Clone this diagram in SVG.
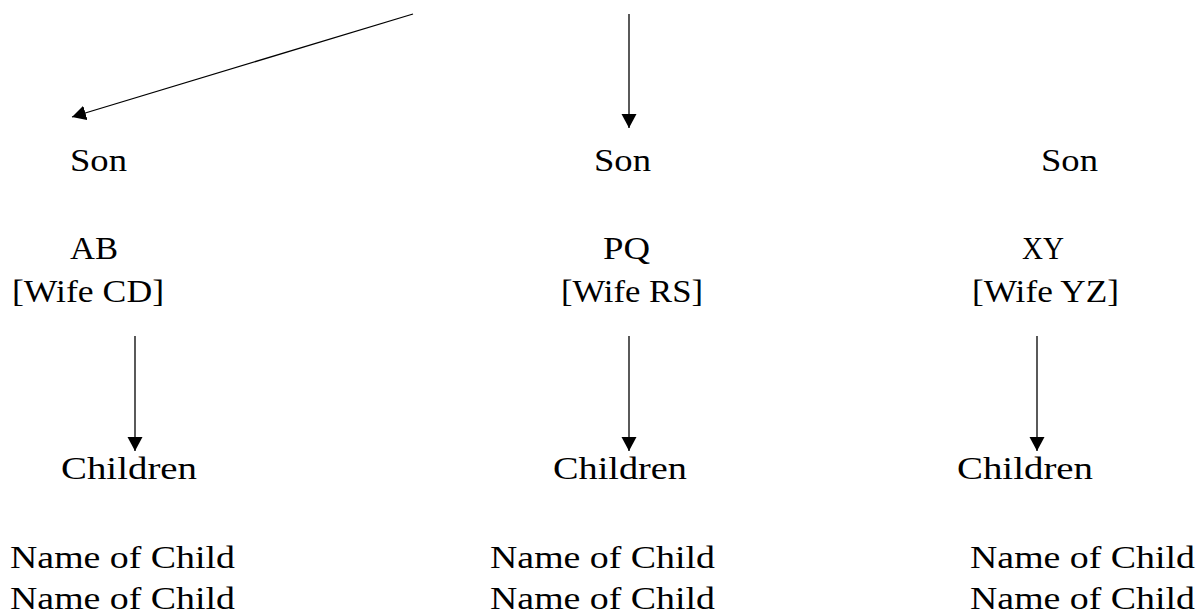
<svg xmlns="http://www.w3.org/2000/svg" width="1199" height="614" viewBox="0 0 1199 614">
<style>
text{font-family:"Liberation Serif","DejaVu Serif",serif;font-size:32px;fill:#000}
.c{stroke:#000;stroke-width:1.3;fill:none}
</style>
<defs>
<marker id="ah" markerUnits="userSpaceOnUse" markerWidth="16" markerHeight="16" refX="14" refY="7.5" orient="auto" viewBox="0 0 16 16">
<path d="M0,0 L14,7.5 L0,15 z" fill="#000"/>
</marker>
</defs>
<rect width="1199" height="614" fill="#fff"/>
<g id="connectors">
<line class="c" x1="413" y1="14" x2="72" y2="117" marker-end="url(#ah)"/>
<line class="c" x1="629" y1="14" x2="629" y2="128" marker-end="url(#ah)"/>
<line class="c" x1="135" y1="336" x2="135" y2="451" marker-end="url(#ah)"/>
<line class="c" x1="629" y1="336" x2="629" y2="451" marker-end="url(#ah)"/>
<line class="c" x1="1037" y1="336" x2="1037" y2="451" marker-end="url(#ah)"/>
</g>
<g id="son1"><text x="70" y="171" textLength="57" lengthAdjust="spacingAndGlyphs">Son</text></g>
<g id="son2"><text x="594" y="171" textLength="57" lengthAdjust="spacingAndGlyphs">Son</text></g>
<g id="son3"><text x="1041" y="171" textLength="57" lengthAdjust="spacingAndGlyphs">Son</text></g>
<g id="ab"><text x="70" y="259" textLength="48" lengthAdjust="spacingAndGlyphs">AB</text><text x="12" y="302" textLength="152" lengthAdjust="spacingAndGlyphs">[Wife CD]</text></g>
<g id="pq"><text x="603" y="259" textLength="47" lengthAdjust="spacingAndGlyphs">PQ</text><text x="561" y="302" textLength="142" lengthAdjust="spacingAndGlyphs">[Wife RS]</text></g>
<g id="xy"><text x="1022" y="259" textLength="42" lengthAdjust="spacingAndGlyphs">XY</text><text x="972" y="302" textLength="147" lengthAdjust="spacingAndGlyphs">[Wife YZ]</text></g>
<g id="children1"><text x="61" y="479" textLength="136" lengthAdjust="spacingAndGlyphs">Children</text></g>
<g id="children2"><text x="553" y="479" textLength="134" lengthAdjust="spacingAndGlyphs">Children</text></g>
<g id="children3"><text x="957" y="479" textLength="136" lengthAdjust="spacingAndGlyphs">Children</text></g>
<g id="names1"><text x="10" y="568" textLength="225" lengthAdjust="spacingAndGlyphs">Name of Child</text><text x="10" y="609" textLength="225" lengthAdjust="spacingAndGlyphs">Name of Child</text></g>
<g id="names2"><text x="490" y="568" textLength="225" lengthAdjust="spacingAndGlyphs">Name of Child</text><text x="490" y="609" textLength="225" lengthAdjust="spacingAndGlyphs">Name of Child</text></g>
<g id="names3"><text x="970" y="568" textLength="225" lengthAdjust="spacingAndGlyphs">Name of Child</text><text x="970" y="609" textLength="225" lengthAdjust="spacingAndGlyphs">Name of Child</text></g>
</svg>
